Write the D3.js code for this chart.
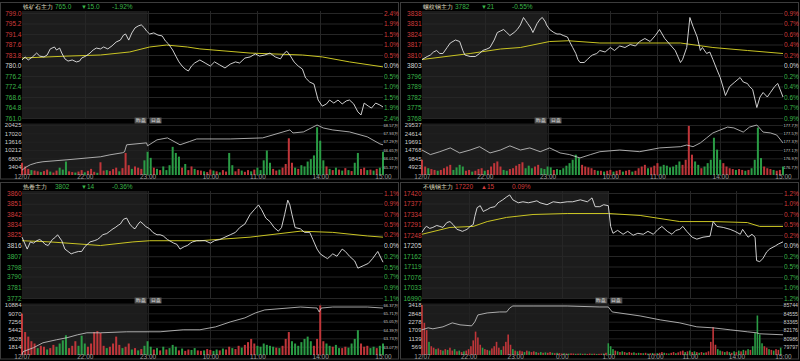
<!DOCTYPE html>
<html><head><meta charset="utf-8">
<script src="https://cdn.jsdelivr.net/npm/d3@7/dist/d3.min.js"></script>
<style>body{margin:0;background:#000;overflow:hidden}svg text{font-family:"Liberation Sans",Arial,sans-serif}</style>
</head><body><svg id="c" width="800" height="361"></svg>
<script>
// ---------- shared time axes ----------
const dayTimeLabels = ["12/07","22:00","23:00","10:00","11:00","14:00","15:00"];
const dayTimeMinutes = [0,60,120,180,225,285,345];
const longTimeLabels = ["12/07","22:00","23:00","0:00","1:00","10:00","11:00","14:00","15:00"];
const longTimeMinutes = [0,60,120,180,240,300,345,405,465];

// ---------- panel 1: 铁矿石 ----------
const p1Head = ["铁矿石主力","765.0","▼","15.0","-1.92%"];
const p1Prev = 780.0;
const p1PriceTicks = [799.0,795.2,791.4,787.6,783.8,780.0,776.2,772.4,768.6,764.8,761.0];
const p1PctLabels = ["2.4%","1.9%","1.5%","1.0%","0.5%","0.0%","0.5%","1.0%","1.5%","1.9%","2.4%"];
const p1VolTicks = [20425,17020,13616,10212,6808,3404];
const p1OiTicks = [68.57,67.93,67.29,66.65,66.01,65.37];
const p1OiLabels = ["68.57万","67.93万","67.29万","66.65万","66.01万","65.37万"];
const p1Price = [[0,782.0],[3,783.1],[6,782.0],[10,783.1],[14,784.5],[17,783.4],[21,783.1],[24,783.8],[27,786.0],[31,786.7],[33,785.6],[36,786.3],[38,784.5],[41,782.4],[44,781.6],[48,782.0],[52,781.3],[55,781.6],[57,782.7],[61,783.4],[65,784.5],[68,785.6],[71,786.3],[75,786.0],[78,786.7],[82,786.0],[86,787.1],[90,788.5],[94,789.2],[97,791.0],[99,791.4],[102,789.2],[105,791.8],[108,793.6],[111,794.3],[114,794.7],[117,793.6],[119,792.5],[122,791.4],[126,791.8],[130,791.0],[134,790.7],[137,788.9],[140,787.8],[144,785.6],[147,783.4],[150,781.3],[153,779.8],[156,778.7],[159,778.0],[162,779.8],[165,780.9],[170,782.0],[175,780.9],[180,779.8],[184,781.3],[189,780.2],[194,779.1],[199,780.5],[204,781.3],[208,780.9],[213,782.7],[218,783.1],[223,784.2],[227,783.4],[232,783.8],[237,784.5],[242,783.1],[247,782.4],[250,784.2],[253,785.2],[256,783.8],[260,781.3],[264,779.8],[268,778.7],[271,775.5],[275,774.0],[279,773.3],[283,767.5],[287,765.3],[291,766.1],[294,767.5],[298,766.4],[302,767.5],[306,766.1],[310,767.2],[313,767.5],[317,766.1],[321,763.2],[324,762.1],[327,766.4],[331,765.3],[334,764.6],[338,766.4],[342,765.7],[345,765.0]];
const p1Avg = [[0,782.7],[43,783.4],[75,783.8],[103,784.9],[122,786.7],[138,787.4],[158,786.7],[170,786.0],[218,784.5],[268,783.8],[287,783.1],[313,781.3],[345,779.5]];
const p1Vol = [5000,3500,2500,-2000,1800,1500,-1200,1600,2200,-1400,1000,1800,-3000,-2200,-5500,1500,1200,-1000,1400,2000,-1100,1700,2500,1300,-900,5200,1800,-2000,1600,2400,3000,-1500,2800,9000,4000,-2500,3500,3000,2500,-6000,-9500,-7000,3000,-2500,2000,-3500,-2000,-4000,-11500,-9000,-7500,3000,-4500,2000,3500,-2500,2000,1800,-1500,1200,2200,-1800,1500,-1100,2000,1400,-9000,-4000,1500,2500,-1800,1300,2000,-1500,2200,-3000,-2000,-6000,-10000,-5000,2500,1800,-2200,3000,4500,15000,5000,-3000,2500,-4000,-3500,-5500,-6500,-8000,-19500,-14000,-6000,3500,-2500,2000,-3000,2200,-1800,2800,-2000,1600,-5000,-9000,2500,3000,-2000,2200,-1800,2500,-3000,-9500];
const p1Oi = [[0,65.10],[3,65.30],[8,65.52],[14,65.67],[20,65.75],[43,65.90],[75,66.13],[84,66.28],[96,66.44],[98,66.51],[100,67.05],[119,67.20],[120,66.97],[129,67.43],[139,67.58],[151,67.05],[160,67.30],[167,67.50],[199,67.50],[230,67.58],[256,68.19],[259,67.96],[269,68.04],[282,68.57],[288,68.34],[297,68.19],[313,68.04],[330,67.66],[342,67.12],[345,67.05]];

// ---------- panel 2: 螺纹钢 ----------
const p2Head = ["螺纹钢主力","3782","▼","21","-0.55%"];
const p2Prev = 3803;
const p2PriceTicks = [3838,3831,3824,3817,3810,3803,3796,3789,3782,3775,3768];
const p2PctLabels = ["0.9%","0.7%","0.6%","0.4%","0.2%","0.0%","0.2%","0.4%","0.6%","0.7%","0.9%"];
const p2VolTicks = [29537,24614,19691,14768,9845,4923];
const p2OiTicks = [177.7,177.5,177.3,177.1,176.9,176.7];
const p2OiLabels = ["177.7万","177.5万","177.3万","177.1万","176.9万","176.7万"];
const p2Price = [[0,3807],[5,3809],[8,3810],[11,3812],[14,3813],[17,3811],[20,3811],[24,3815],[27,3818],[32,3820],[36,3819],[39,3813],[41,3810],[46,3809],[51,3809],[55,3811],[58,3813],[62,3814],[65,3815],[69,3820],[72,3825],[75,3826],[78,3827],[81,3825],[84,3823],[88,3825],[91,3827],[94,3830],[97,3835],[99,3833],[101,3831],[104,3828],[106,3825],[110,3831],[113,3834],[115,3835],[118,3832],[119,3830],[122,3827],[126,3825],[129,3824],[132,3824],[135,3823],[139,3822],[141,3819],[144,3815],[147,3811],[149,3807],[151,3805],[155,3805],[158,3807],[161,3809],[163,3810],[167,3811],[170,3813],[175,3812],[180,3815],[184,3813],[189,3816],[194,3815],[199,3817],[204,3816],[208,3819],[213,3821],[218,3819],[223,3823],[227,3827],[232,3821],[237,3817],[242,3813],[247,3805],[249,3807],[253,3815],[256,3835],[259,3829],[263,3822],[266,3813],[268,3815],[272,3811],[275,3812],[278,3807],[282,3800],[285,3795],[288,3788],[290,3783],[294,3789],[299,3792],[304,3795],[307,3792],[311,3791],[313,3789],[316,3787],[320,3775],[323,3782],[326,3785],[330,3782],[333,3785],[337,3789],[340,3791],[345,3782]];
const p2Avg = [[0,3807],[46,3811],[75,3814],[94,3815],[122,3819],[140,3819.5],[170,3818],[247,3818],[278,3815],[311,3813],[345,3811]];
const p2Vol = [9000,5000,-4000,3500,3000,-2500,3000,4000,5000,6000,-3000,-4500,-6000,-5000,2500,3000,-2000,2500,3500,4000,-2500,3000,5000,7000,8000,5000,-3000,-2500,3500,4000,5500,6500,7500,-4000,-5500,-4000,5000,6000,-4000,-3500,-5000,-4500,3000,-3500,-3000,-4000,-5500,-7000,-9000,-12000,-10000,6000,5000,4500,4000,3000,-2500,2500,-2000,2500,3000,-2000,2500,3000,-2000,2500,3000,-2000,2500,4000,5000,6000,-4000,4500,5500,7000,-5000,-6000,-5500,-4500,-5000,-6000,-8000,6000,9000,29000,12000,-8000,-6000,4000,-5000,-7000,-9000,-22000,-15000,-9000,7000,5000,4000,3500,-3000,3500,3000,-2500,3000,-4000,-9000,-28000,-10000,5000,4000,3500,-3000,2500,3000,-5000];
const p2Oi = [[0,177.10],[8,176.99],[17,177.06],[27,177.15],[36,177.03],[46,177.10],[55,177.18],[65,177.03],[75,177.10],[84,177.20],[94,177.10],[103,177.15],[113,177.06],[122,177.15],[132,177.03],[141,176.99],[151,176.91],[161,176.99],[170,177.06],[189,177.10],[208,177.06],[227,177.15],[247,177.18],[253,177.22],[259,177.18],[266,177.27],[272,177.39],[278,177.51],[292,177.65],[298,177.63],[307,177.53],[313,177.65],[320,177.70],[326,177.53],[333,177.51],[339,177.46],[345,177.27]];

// ---------- panel 3: 热卷 ----------
const p3Head = ["热卷主力","3802","▼","14","-0.36%"];
const p3Prev = 3816;
const p3PriceTicks = [3860,3851,3842,3834,3825,3816,3807,3798,3790,3781,3772];
const p3PctLabels = ["1.1%","0.9%","0.7%","0.5%","0.2%","0.0%","0.2%","0.5%","0.7%","0.9%","1.1%"];
const p3VolTicks = [10884,9070,7256,5442,3628,1814];
const p3OiTicks = [66.37,65.71,65.05,64.39,63.73,63.07];
const p3OiLabels = ["66.37万","65.71万","65.05万","64.39万","63.73万","63.07万"];
const p3Price = [[0,3823],[5,3813],[8,3819],[11,3818],[14,3820],[17,3821],[20,3819],[22,3817],[25,3816],[29,3821],[32,3823],[34,3825],[38,3820],[41,3813],[44,3811],[47,3809],[50,3810],[54,3811],[57,3811],[60,3815],[65,3819],[69,3820],[72,3821],[75,3823],[77,3825],[81,3826],[84,3828],[87,3830],[89,3831],[92,3833],[94,3834],[97,3838],[100,3839],[103,3834],[106,3831],[108,3830],[111,3834],[113,3836],[116,3834],[118,3832],[122,3830],[125,3827],[129,3825],[132,3825],[135,3824],[139,3821],[141,3820],[145,3818],[148,3817],[151,3813],[155,3815],[158,3816],[161,3818],[163,3819],[167,3820],[170,3820],[175,3820],[180,3818],[184,3820],[189,3821],[194,3823],[199,3825],[204,3827],[208,3831],[213,3834],[218,3842],[222,3846],[226,3850],[229,3846],[233,3839],[237,3836],[241,3831],[245,3828],[248,3831],[251,3842],[254,3854],[256,3850],[258,3842],[261,3831],[266,3830],[270,3827],[275,3827],[278,3821],[282,3813],[285,3809],[290,3806],[292,3805],[297,3809],[301,3807],[306,3813],[309,3811],[313,3807],[318,3803],[321,3797],[326,3799],[331,3801],[335,3805],[340,3811],[345,3802]];
const p3Avg = [[0,3820],[27,3819],[75,3816],[106,3819],[122,3820],[170,3820],[218,3823],[266,3828],[297,3827],[330,3824],[345,3823]];
const p3Vol = [9000,5000,4000,3000,2500,-1500,2000,1800,-1200,1500,2200,-1800,-2500,-3200,-4300,1500,2000,3000,-2000,-4200,-2500,1800,2500,5000,5200,4800,2000,-1500,1800,2500,4000,2200,-1500,1800,2500,-1200,1500,-1000,1300,-2000,-3000,-1800,1200,-1500,1000,-1800,1200,-1500,-2200,-1800,1000,-1400,900,1200,-1100,-1500,1000,900,-1000,1300,1100,-900,-1200,1000,-1400,1200,1800,-1500,1300,2000,-1600,2200,2800,3500,2500,-2000,-1800,-2500,-2200,-2000,-1800,1600,-1500,2000,3500,5000,-3000,-2500,-2000,-2800,-3500,-4000,-3000,2000,3500,10800,3000,-2500,-2000,1800,-2200,-1500,1500,1800,-1600,-2500,-3500,-5400,2500,1800,2000,-1500,-1800,1500,-2000,-2500];
const p3Oi = [[0,62.44],[1,62.68],[11,62.99],[20,63.38],[33,63.62],[43,63.78],[53,64.01],[62,64.17],[75,64.17],[100,64.25],[132,64.25],[154,64.41],[170,64.41],[185,64.64],[199,65.03],[213,65.35],[223,65.74],[232,65.98],[266,66.21],[282,66.13],[284,65.82],[286,66.13],[297,66.21],[330,66.21],[345,66.13]];

// ---------- panel 4: 不锈钢 ----------
const p4Head = ["不锈钢主力","17220","▲","15","0.09%"];
const p4Prev = 17205;
const p4PriceTicks = [17420,17377,17334,17291,17248,17205,17162,17119,17076,17033,16990];
const p4PctLabels = ["1.2%","1.0%","0.7%","0.5%","0.2%","0.0%","0.2%","0.5%","0.7%","1.0%","1.2%"];
const p4VolTicks = [3418,2848,2278,1709,1139,569];
const p4OiTicks = [85744,84555,83365,82176,80986,79797];
const p4OiLabels = ["85744","84555","83365","82176","80986","79797"];
const p4Price = [[0,17259],[4,17279],[6,17283],[10,17275],[14,17279],[19,17287],[23,17283],[27,17279],[32,17299],[36,17303],[40,17291],[45,17271],[49,17267],[52,17263],[55,17267],[58,17271],[62,17283],[66,17291],[68,17324],[71,17360],[75,17368],[79,17344],[81,17348],[84,17352],[88,17360],[94,17364],[98,17380],[100,17384],[104,17392],[109,17404],[113,17412],[117,17392],[124,17380],[130,17384],[137,17380],[143,17384],[148,17388],[152,17380],[161,17372],[169,17384],[178,17380],[187,17384],[194,17384],[204,17392],[213,17384],[219,17400],[223,17364],[229,17364],[234,17372],[240,17368],[243,17283],[246,17255],[252,17267],[259,17251],[265,17263],[272,17247],[278,17255],[285,17251],[291,17263],[298,17251],[304,17271],[309,17283],[316,17263],[322,17251],[327,17267],[332,17271],[336,17283],[341,17263],[348,17239],[354,17231],[362,17239],[371,17243],[375,17303],[380,17283],[388,17279],[397,17271],[403,17263],[410,17251],[413,17271],[420,17239],[425,17251],[429,17239],[431,17143],[435,17139],[439,17151],[444,17179],[448,17191],[455,17203],[459,17211],[465,17220]];
const p4Avg = [[0,17251],[36,17279],[66,17283],[84,17303],[109,17320],[143,17332],[187,17336],[240,17336],[281,17328],[332,17303],[375,17303],[419,17299],[435,17283],[465,17283]];
const p4Vol = [3418,2200,1700,-900,600,500,-400,450,350,-300,400,-350,500,300,-400,250,-300,200,-250,300,400,600,1000,1600,1200,700,-500,400,350,-300,450,600,900,500,-350,600,900,1400,700,-400,300,-250,300,250,-200,300,-250,200,250,-200,150,-200,150,-180,150,200,-150,120,-150,130,100,-120,100,-90,110,100,-80,90,-100,80,-90,70,100,-80,90,-70,80,90,-100,150,-800,-600,-400,300,-250,200,-250,200,-150,200,150,-180,120,-150,130,-120,150,-100,120,-140,100,-120,150,200,-150,120,-100,150,200,-120,180,250,300,-200,250,-300,200,-250,200,-150,200,-150,180,250,900,1900,700,-400,-300,250,-200,250,-200,150,-250,200,-300,250,-350,300,-400,350,-600,-1500,-2700,-1400,-800,600,500,-400,350,-300,400,350,-500];
const p4Oi = [[0,82204],[8,82487],[14,82346],[27,82629],[39,83195],[49,82912],[64,82770],[68,83337],[72,84328],[84,84611],[100,84753],[109,84753],[113,85319],[117,85602],[143,85602],[187,85602],[229,85461],[240,85461],[245,84753],[281,84186],[307,83620],[332,83195],[354,82629],[375,82487],[397,82204],[419,81921],[431,81779],[435,81638],[465,81496]];

// ---------- drawing ----------
const RED="#d23c3c", GREEN="#3bb54a", MID="#d8d8d8";
const VRED="#c0363a", VGREEN="#2a9c45";
const svg = d3.select("#c");
svg.append("rect").attr("width",800).attr("height",361).attr("fill","#000");

const panels = [
  {ox:0,oy:0,head:p1Head,up:false,prev:p1Prev,pt:p1PriceTicks,pct:p1PctLabels,fmt:d3.format(".1f"),vt:p1VolTicks,ot:p1OiTicks,ol:p1OiLabels,price:p1Price,avg:p1Avg,vol:p1Vol,oi:p1Oi,total:345,night:120,tl:dayTimeLabels,tm:dayTimeMinutes},
  {ox:400,oy:0,head:p2Head,up:false,prev:p2Prev,pt:p2PriceTicks,pct:p2PctLabels,fmt:d3.format("d"),vt:p2VolTicks,ot:p2OiTicks,ol:p2OiLabels,price:p2Price,avg:p2Avg,vol:p2Vol,oi:p2Oi,total:345,night:120,tl:dayTimeLabels,tm:dayTimeMinutes},
  {ox:0,oy:180,head:p3Head,up:false,prev:p3Prev,pt:p3PriceTicks,pct:p3PctLabels,fmt:d3.format("d"),vt:p3VolTicks,ot:p3OiTicks,ol:p3OiLabels,price:p3Price,avg:p3Avg,vol:p3Vol,oi:p3Oi,total:345,night:120,tl:dayTimeLabels,tm:dayTimeMinutes},
  {ox:400,oy:180,head:p4Head,up:true,prev:p4Prev,pt:p4PriceTicks,pct:p4PctLabels,fmt:d3.format("d"),vt:p4VolTicks,ot:p4OiTicks,ol:p4OiLabels,price:p4Price,avg:p4Avg,vol:p4Vol,oi:p4Oi,total:465,night:240,tl:longTimeLabels,tm:longTimeMinutes}
];

function styleAxis(sel, size){
  sel.attr("font-size",size).attr("font-family","'Liberation Sans',Arial,sans-serif");
  sel.select(".domain").remove();
  sel.selectAll(".tick line").remove();
}

panels.forEach(c=>{
  const g = svg.append("g").attr("transform",`translate(${c.ox},${c.oy})`);
  const x = d3.scaleLinear().domain([0,c.total]).range([22,383]);
  const y = d3.scaleLinear().domain([c.pt[c.pt.length-1], c.pt[0]]).range([118,13]);
  const yv = d3.scaleLinear().domain([0,c.vt[0]]).range([175,125]);
  const yo = d3.scaleLinear().domain([c.ot[c.ot.length-1], c.ot[0]]).range([166.7,125]);

  // frame
  g.append("rect").attr("x",0.5).attr("y",2.5).attr("width",398).attr("height",176.5)
    .attr("fill","none").attr("stroke","#3c3c3c");
  // night shade
  const nx0 = x(0), nx1 = x(c.night);
  g.append("rect").attr("x",nx0).attr("y",11).attr("width",nx1-nx0).attr("height",107.5).attr("fill","#1c1c1c");
  g.append("rect").attr("x",nx0).attr("y",123.5).attr("width",nx1-nx0).attr("height",51.5).attr("fill","#1c1c1c");

  // grids
  g.append("g").selectAll("line").data(c.pt).join("line")
    .attr("x1",22).attr("x2",383).attr("y1",d=>y(d)+0.5).attr("y2",d=>y(d)+0.5)
    .attr("stroke","#262626");
  g.append("g").selectAll("line").data(c.vt).join("line")
    .attr("x1",22).attr("x2",383).attr("y1",d=>yv(d)+0.5).attr("y2",d=>yv(d)+0.5)
    .attr("stroke","#222");
  const inner = c.tm.slice(1,-1);
  g.append("g").selectAll("line").data(inner).join("line")
    .attr("x1",d=>Math.round(x(d))+0.5).attr("x2",d=>Math.round(x(d))+0.5).attr("y1",11).attr("y2",118)
    .attr("stroke","#262626");
  g.append("g").selectAll("line").data(inner).join("line")
    .attr("x1",d=>Math.round(x(d))+0.5).attr("x2",d=>Math.round(x(d))+0.5).attr("y1",123.5).attr("y2",175)
    .attr("stroke","#222");

  // volume bars
  const step = 3, bw = c.total>400 ? 1.6 : 2;
  g.append("g").selectAll("rect").data(c.vol).join("rect")
    .attr("x",(d,i)=>x(i*step)-bw/2).attr("width",bw)
    .attr("y",d=>yv(Math.abs(d))).attr("height",d=>yv(0)-yv(Math.abs(d)))
    .attr("fill",d=>d>=0?VRED:VGREEN);

  // open interest line
  g.append("path").datum(c.oi)
    .attr("d",d3.line().x(d=>x(d[0])).y(d=>yo(d[1])))
    .attr("fill","none").attr("stroke","#cfcfcf").attr("stroke-width",0.8);

  // avg + price lines
  const ln = d3.line().x(d=>x(d[0])).y(d=>y(d[1]));
  g.append("path").datum(c.avg).attr("d",ln).attr("fill","none").attr("stroke","#c9c423").attr("stroke-width",1);
  g.append("path").datum(c.price).attr("d",ln).attr("fill","none").attr("stroke","#e4e4e4").attr("stroke-width",0.9).attr("stroke-linejoin","round");

  // price axis (left)
  const colr = d => d>c.prev?RED:(d<c.prev?GREEN:MID);
  const al = g.append("g").attr("transform","translate(21.5,0)")
    .call(d3.axisLeft(y).tickValues(c.pt).tickFormat(c.fmt).tickSize(0).tickPadding(0));
  styleAxis(al,6.5);
  al.selectAll(".tick text").attr("fill",d=>colr(d));
  // pct axis (right)
  const ar = g.append("g").attr("transform","translate(384,0)")
    .call(d3.axisRight(y).tickValues(c.pt).tickFormat((d,i)=>c.pct[i]).tickSize(0).tickPadding(0));
  styleAxis(ar,6.5);
  ar.selectAll(".tick text").attr("fill",d=>colr(d));
  // volume axis (left)
  const av = g.append("g").attr("transform","translate(21.5,0)")
    .call(d3.axisLeft(yv).tickValues(c.vt).tickFormat(d3.format("d")).tickSize(0).tickPadding(0));
  styleAxis(av,6);
  av.selectAll(".tick text").attr("fill","#cfcfcf");
  // OI axis (right) - shrink font so each label fits inside the panel
  const ao = g.append("g").attr("transform","translate(383.5,0)")
    .call(d3.axisRight(yo).tickValues(c.ot).tickFormat((d,i)=>c.ol[i]).tickSize(0).tickPadding(0));
  styleAxis(ao,5.6);
  let maxW = 0;
  ao.selectAll(".tick text").attr("fill","#cfcfcf").each(function(){ maxW = Math.max(maxW,this.getComputedTextLength()); });
  if (maxW > 14.5) ao.attr("font-size", 5.6*14.5/maxW);
  // time axis
  const at = g.append("g").attr("transform","translate(0,174)")
    .call(d3.axisBottom(x).tickValues(c.tm).tickFormat((d,i)=>c.tl[i]).tickSize(0).tickPadding(0));
  styleAxis(at,6.5);
  at.selectAll(".tick text").attr("fill","#9c9c9c");

  // header
  const hc = c.up?RED:GREEN;
  g.append("text").attr("x",23).attr("y",8.6).attr("font-size",6).attr("font-family","'Noto Sans CJK SC',sans-serif")
    .attr("fill","#e8e4cf").text(c.head[0]);
  g.append("text").attr("x",55).attr("y",8.6).attr("font-size",6.5).attr("fill",hc).text(c.head[1]);
  g.append("text").attr("x",81).attr("y",8.6).attr("font-size",6).attr("fill",hc).text(c.head[2]);
  g.append("text").attr("x",87).attr("y",8.6).attr("font-size",6.5).attr("fill",hc).text(c.head[3]);
  g.append("text").attr("x",112).attr("y",8.6).attr("font-size",6.5).attr("fill",hc).text(c.head[4]);

  // buttons
  [["昨盘",-13],["日盘",2]].forEach(([t,dx])=>{
    g.append("rect").attr("x",nx1+dx).attr("y",117.5).attr("width",12).attr("height",6).attr("fill","#505050");
    g.append("text").attr("x",nx1+dx+6).attr("y",122.2).attr("text-anchor","middle").attr("font-size",4.6)
      .attr("font-family","'Noto Sans CJK SC',sans-serif").attr("fill","#e0e0e0").text(t);
  });
});
</script></body></html>
